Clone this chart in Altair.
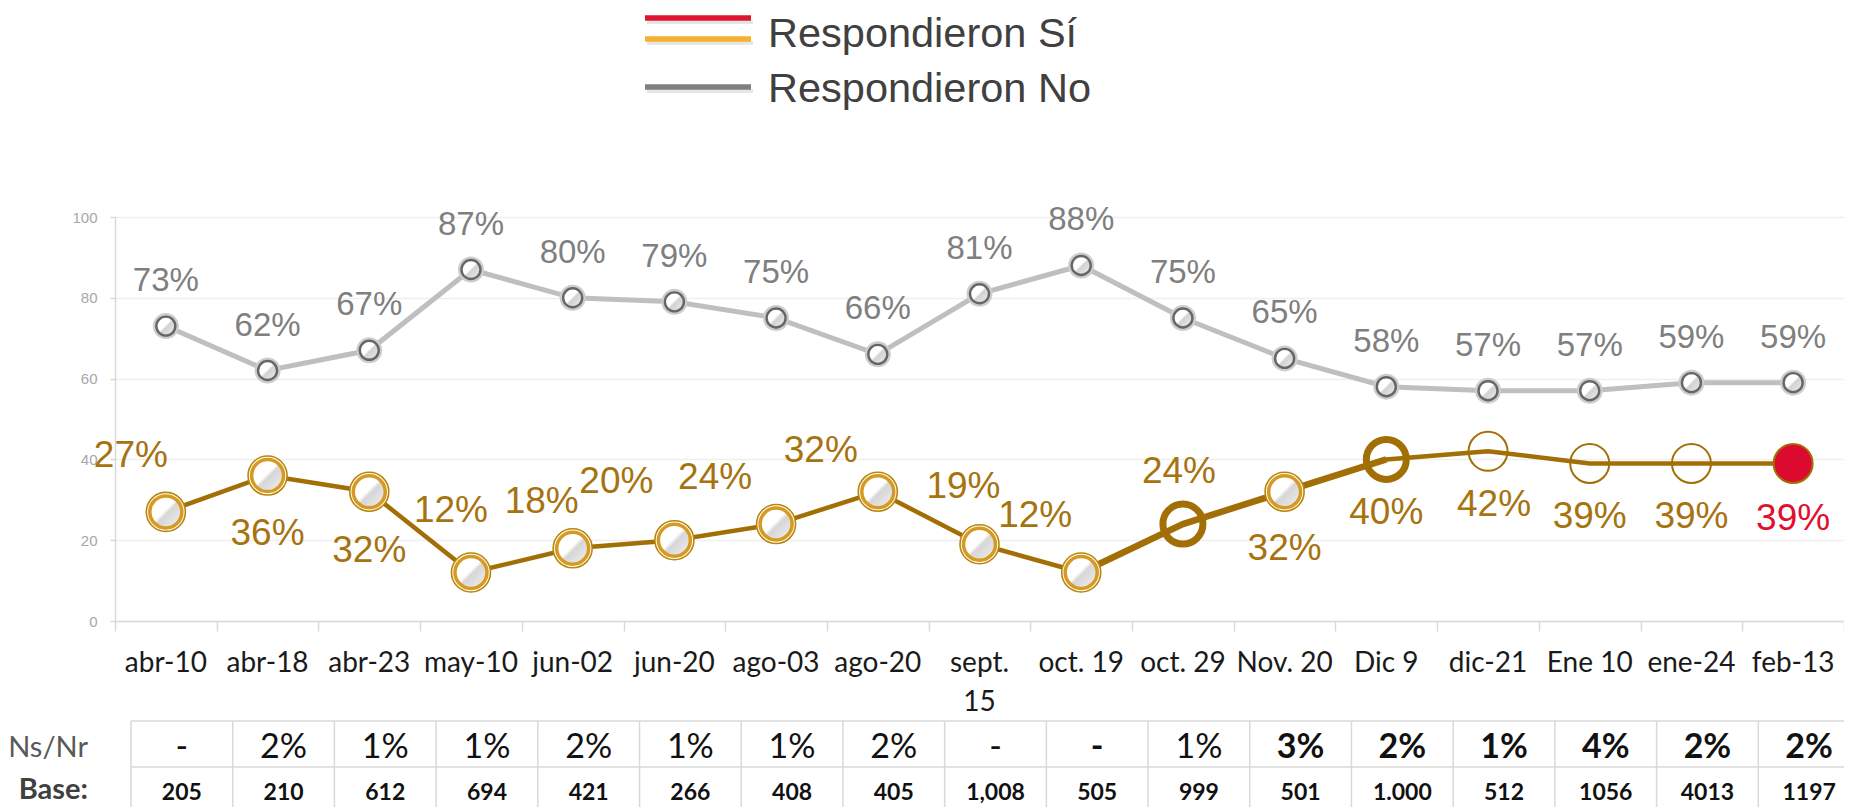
import altair as alt
import pandas as pd

# ---------------- data ----------------
CATEGORIES = ["abr-10", "abr-18", "abr-23", "may-10", "jun-02", "jun-20", "ago-03",
              "ago-20", "sept. 15", "oct. 19", "oct. 29", "Nov. 20", "Dic 9", "dic-21",
              "Ene 10", "ene-24", "feb-13"]
NO_VALUES = [73, 62, 67, 87, 80, 79, 75, 66, 81, 88, 75, 65, 58, 57, 57, 59, 59]
SI_VALUES = [27, 36, 32, 12, 18, 20, 24, 32, 19, 12, 24, 32, 40, 42, 39, 39, 39]
NS_NR = ["-", "2%", "1%", "1%", "2%", "1%", "1%", "2%", "-", "-", "1%", "3%", "2%",
         "1%", "4%", "2%", "2%"]
NS_NR_BOLD = [False] * 9 + [True, False] + [True] * 6
BASE = ["205", "210", "612", "694", "421", "266", "408", "405", "1,008", "505", "999",
        "501", "1.000", "512", "1056", "4013", "1197"]
SI_MARKER = ["gold"] * 10 + ["ring", "gold", "ring", "open", "open", "open", "red"]
LEGEND = ["Respondieron Sí", "Respondieron No"]
ROW_HEADERS = ["Ns/Nr", "Base:"]

# ---------------- styling ----------------
# per-label placement of the "Sí" labels (pixels, relative to the point)
SI_LABEL_DX = [-35, 0, 0, -20, -31, -58, -61, -57, -16, -46, -4, 0, 0, 6, 0, 0, 0]
SI_LABEL_DY = [-56, 58, 59, -62, -46, -58, -46, -41, -57, -57, -52, 57, 54, 54, 54, 54, 56]

W, H = 1729, 404
BROWN = "#A26F06"
BROWN_TXT = "#A67310"
GOLD = "#D69A22"
GRAY_LINE = "#BFBFBF"
GRAY_TXT = "#7F7F7F"
RED = "#DC0A2E"
GRID = "#D9D9D9"
TABLE_OFFSET = 16 / (W / 17)

df = pd.DataFrame({
    "cat": CATEGORIES,
    "no": NO_VALUES,
    "si": SI_VALUES,
    "idx": list(range(len(CATEGORIES))),
    "nsnr": NS_NR,
    "nsnr_bold": NS_NR_BOLD,
    "base": BASE,
    "marker": SI_MARKER,
})
df["no_label"] = df["no"].astype(str) + "%"
df["si_label"] = df["si"].astype(str) + "%"

GRAD = alt.LinearGradient(
    gradient="linear", x1=0, y1=0, x2=1, y2=1,
    stops=[alt.GradientStop(offset=0, color="#FFFFFF"),
           alt.GradientStop(offset=0.46, color="#FFFFFF"),
           alt.GradientStop(offset=0.54, color="#D2D2D2"),
           alt.GradientStop(offset=1, color="#EFEFEF")])

X_AXIS = alt.Axis(labels=False, ticks=True, tickBand="extent", tickSize=10,
                  tickColor=GRID, tickWidth=1.5, domainColor=GRID, domainWidth=1.5,
                  grid=False, title=None)
Y_AXIS = alt.Axis(values=[0, 20, 40, 60, 80, 100], grid=True, gridColor="#EFEFEF",
                  gridWidth=1.5, domainColor=GRID, domainWidth=1.5, tickColor=GRID,
                  tickSize=5, tickWidth=1.5, labelColor="#A6A6A6",
                  labelFont="Liberation Sans", labelFontSize=15, labelPadding=13,
                  title=None)
XSCALE = alt.Scale(type="band", domain=CATEGORIES, paddingInner=0, paddingOuter=0)
YSCALE = alt.Scale(domain=[0, 100], nice=False, zero=True)

X = alt.X("cat:N", scale=XSCALE, axis=X_AXIS, title=None)
Y_NO = alt.Y("no:Q", scale=YSCALE, axis=Y_AXIS, title=None)
Y_SI = alt.Y("si:Q", scale=YSCALE, axis=Y_AXIS, title=None)

base = alt.Chart(df)

# ---- "No" series ----
no_line = base.mark_line(color=GRAY_LINE, strokeWidth=5).encode(x=X, y=Y_NO)
no_halo = base.mark_point(shape="circle", filled=True, color="#CDCDCD", size=26 ** 2,
                          opacity=1, strokeWidth=0).encode(x=X, y=Y_NO)
no_pts = base.mark_point(shape="circle", filled=True, fill=GRAD, stroke="#666666",
                         strokeWidth=2.4, size=19 ** 2, opacity=1).encode(x=X, y=Y_NO)
no_lbl = base.mark_text(font="Liberation Sans", fontSize=33, color=GRAY_TXT,
                        baseline="middle", dy=-45).encode(x=X, y=Y_NO, text="no_label:N")

# ---- "Sí" series ----
si_line = base.mark_line(color=BROWN, strokeWidth=4.5).encode(x=X, y=Y_SI)
si_thick = base.transform_filter("datum.idx >= 9 && datum.idx <= 12").mark_line(
    color=BROWN, strokeWidth=6.5).encode(x=X, y=Y_SI)
gold = base.transform_filter("datum.marker == 'gold'")
gold_outer = gold.mark_point(shape="circle", filled=True, fill="#FFFFFF", stroke="#B8860B",
                             strokeWidth=1.6, size=39 ** 2, opacity=1).encode(x=X, y=Y_SI)
gold_inner = gold.mark_point(shape="circle", filled=True, fill=GRAD, fillOpacity=0.9,
                             stroke=GOLD, strokeWidth=3.5, size=32 ** 2,
                             opacity=1).encode(x=X, y=Y_SI)
ring = base.transform_filter("datum.marker == 'ring'").mark_point(
    shape="circle", filled=False, stroke=BROWN, strokeWidth=7, size=40 ** 2,
    opacity=1).encode(x=X, y=Y_SI)
open_c = base.transform_filter("datum.marker == 'open'").mark_point(
    shape="circle", filled=False, stroke=BROWN, strokeWidth=2, size=39 ** 2,
    opacity=1).encode(x=X, y=Y_SI)
red_c = base.transform_filter("datum.marker == 'red'").mark_point(
    shape="circle", filled=True, fill=RED, stroke=BROWN, strokeWidth=2, size=39 ** 2,
    opacity=1).encode(x=X, y=Y_SI)

si_lbls = []
for i in range(len(CATEGORIES)):
    is_red = SI_MARKER[i] == "red"
    si_lbls.append(
        base.transform_filter(f"datum.idx == {i}").mark_text(
            font="Liberation Sans", fontSize=37, color=("#E0102F" if is_red else BROWN_TXT),
            baseline="middle", dx=SI_LABEL_DX[i], dy=SI_LABEL_DY[i]
        ).encode(x=X, y=Y_SI, text="si_label:N"))

# ---- category labels ----
xlabels = base.transform_calculate(
    lab="replace(datum.cat, 'sept. ', 'sept.|')"
).mark_text(font="Lato", fontSize=28, color="#1A1A1A", baseline="alphabetic",
            lineBreak="|", lineHeight=39).encode(x=X, y=alt.value(455), text="lab:N")

main = alt.layer(no_line, no_halo, no_pts, si_line, si_thick, gold_outer, gold_inner,
                 ring, open_c, red_c, no_lbl, *si_lbls, xlabels)

# ---------------- table ----------------
TSCALE = alt.Scale(domain=[-TABLE_OFFSET, 17 - TABLE_OFFSET], nice=False, zero=False)
tbase = base.transform_calculate(kc="datum.idx + 0.5")
XT = alt.X("kc:Q", scale=TSCALE, axis=None)

bounds = pd.DataFrame({"k": list(range(len(CATEGORIES) + 1))})
vrules = alt.Chart(bounds).mark_rule(color=GRID, strokeWidth=1.5).encode(
    x=alt.X("k:Q", scale=TSCALE, axis=None), y=alt.value(504), y2=alt.value(620))
span = pd.DataFrame({"a": [0], "b": [len(CATEGORIES)]})
hrule1 = alt.Chart(span).mark_rule(color=GRID, strokeWidth=1.5).encode(
    x=alt.X("a:Q", scale=TSCALE, axis=None), x2="b:Q", y=alt.value(504))
hrule2 = alt.Chart(span).mark_rule(color=GRID, strokeWidth=1.5).encode(
    x=alt.X("a:Q", scale=TSCALE, axis=None), x2="b:Q", y=alt.value(550))

nsnr_norm = tbase.transform_filter("!datum.nsnr_bold").mark_text(
    font="Lato", fontSize=34, color="#111111", baseline="alphabetic").encode(
    x=XT, y=alt.value(541), text="nsnr:N")
nsnr_bold = tbase.transform_filter("datum.nsnr_bold").mark_text(
    font="Lato", fontSize=34, fontWeight="bold", color="#111111",
    baseline="alphabetic").encode(x=XT, y=alt.value(541), text="nsnr:N")
base_txt = tbase.mark_text(font="Lato", fontSize=23, fontWeight="bold", color="#111111",
                           baseline="alphabetic").encode(x=XT, y=alt.value(583),
                                                         text="base:N")
hdr = pd.DataFrame({"h": ROW_HEADERS})
hdr1 = alt.Chart(hdr).transform_filter("datum.h == 'Ns/Nr'").mark_text(
    font="Lato", fontSize=29, color="#595959", align="right",
    baseline="alphabetic").encode(x=alt.value(-27), y=alt.value(540), text="h:N")
hdr2 = alt.Chart(hdr).transform_filter("datum.h == 'Base:'").mark_text(
    font="Lato", fontSize=29, fontWeight="bold", color="#404040", align="right",
    baseline="alphabetic").encode(x=alt.value(-27), y=alt.value(582), text="h:N")

table = alt.layer(vrules, hrule1, hrule2, nsnr_norm, nsnr_bold, base_txt, hdr1, hdr2)

# ---------------- legend ----------------
leg = pd.DataFrame({"t": LEGEND})
one = alt.Chart(pd.DataFrame({"o": [0]}))
legend_layers = []
for yv, col in [(-199, "#DE1431"), (-178, "#F5B02E"), (-130, "#7F7F7F")]:
    legend_layers.append(one.mark_rule(color="#9A9A9A", strokeWidth=4, opacity=0.25).encode(
        x=alt.value(532), x2=alt.value(638), y=alt.value(yv + 4)))
    legend_layers.append(one.mark_rule(color=col, strokeWidth=5.5).encode(
        x=alt.value(530), x2=alt.value(636), y=alt.value(yv)))
leg_si = alt.Chart(leg).transform_filter("datum.t == 'Respondieron Sí'").mark_text(
    font="Liberation Sans", fontSize=41.5, color="#404040", align="left",
    baseline="alphabetic").encode(x=alt.value(653), y=alt.value(-170), text="t:N")
leg_no = alt.Chart(leg).transform_filter("datum.t == 'Respondieron No'").mark_text(
    font="Liberation Sans", fontSize=41.5, color="#404040", align="left",
    baseline="alphabetic").encode(x=alt.value(653), y=alt.value(-115), text="t:N")
legend = alt.layer(*legend_layers, leg_si, leg_no)

chart = alt.layer(main, table, legend).resolve_scale(x="independent").properties(
    width=W, height=H,
    padding={"left": 107, "top": 209, "right": 0, "bottom": 186},
    autosize=alt.AutoSizeParams(type="none"),
).configure_view(stroke=None)

chart.save("out.html", embed_options={"renderer": "svg", "actions": False})
